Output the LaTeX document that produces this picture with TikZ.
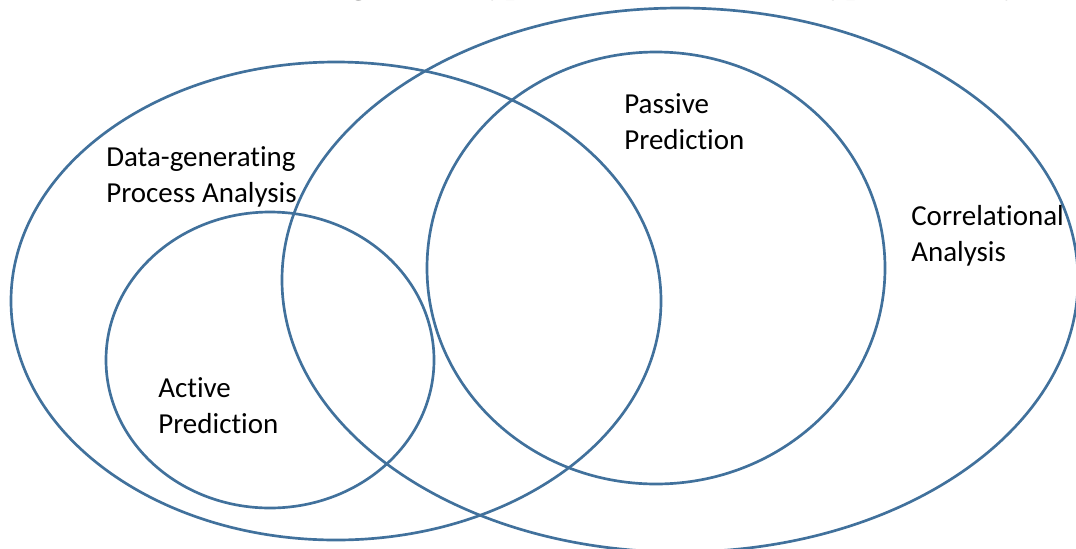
\documentclass[tikz,border=0pt]{standalone}
\usepackage{fontspec}
\setmainfont{Carlito}[Ligatures=NoCommon]
\newfontfamily\titlefont{Liberation Serif}
\usepackage{tikz}
\definecolor{ink}{HTML}{000000}
\definecolor{rim}{HTML}{41719C}

\tikzset{
  setline/.style={draw=rim,line width=1.9pt},
  setlabel/.style={anchor=base west,align=left,inner sep=0pt,text=ink,
    font=\fontsize{20.6}{25.5}\selectfont}
}

\begin{document}
\begin{tikzpicture}[x=0.025cm,y=-0.025cm]
  \useasboundingbox (0,0) rectangle (1076,548);
  \clip (0,0) rectangle (1076,548);
  % title, cut off by the top edge
  \node[anchor=base west,inner sep=0pt] (title) at (221,-7)
    {\titlefont\fontsize{23.4}{23.4}\selectfont\bfseries Venn Diagram of Types of Prediction and Types of Analysis};
  % the four sets
  \draw[setline] (336,301) ellipse [x radius=325, y radius=239];
  \draw[setline] (680,280) ellipse [x radius=398, y radius=272];
  \draw[setline] (656,268) ellipse [x radius=229, y radius=216];
  \draw[setline] (270,360) ellipse [x radius=164, y radius=148];
  % labels (base = last line)
  \node[setlabel] (dgp) at (106,202) {Data-generating\\Process Analysis};
  \node[setlabel] (active) at (158,433) {Active\\Prediction};
  \node[setlabel] (passive) at (624,149) {Passive\\Prediction};
  \node[setlabel] (corr) at (911,261) {Correlational\\Analysis};
\end{tikzpicture}
\end{document}
